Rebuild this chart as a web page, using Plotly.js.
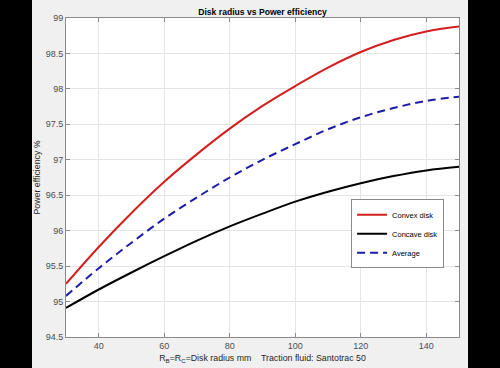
<!DOCTYPE html>
<html>
<head>
<meta charset="utf-8">
<script src="https://cdn.plot.ly/plotly-3.0.1.min.js"></script>
<style>
html,body{margin:0;padding:0;background:#000;width:500px;height:368px;overflow:hidden;}
#frame{position:absolute;left:32px;top:0;width:436px;height:368px;background:#f0f0f0;}
#plot{width:436px;height:368px;}
</style>
</head>
<body>
<div id="frame"><div id="plot"></div></div>
<script>
const radius = [30, 40, 50, 60, 70, 80, 90, 100, 110, 120, 130, 140, 150];
const convex = [95.25, 95.77, 96.25, 96.69, 97.08, 97.44, 97.76, 98.04, 98.30, 98.52, 98.69, 98.81, 98.88];
const concave = [94.91, 95.17, 95.41, 95.64, 95.86, 96.06, 96.24, 96.41, 96.55, 96.67, 96.77, 96.85, 96.90];
const average = [95.08, 95.47, 95.83, 96.17, 96.47, 96.75, 97.00, 97.22, 97.43, 97.60, 97.73, 97.83, 97.89];
const xTicks = [40, 60, 80, 100, 120, 140];
const yTicks = [94.5, 95, 95.5, 96, 96.5, 97, 97.5, 98, 98.5, 99];

const font = 'Liberation Sans, Arial, sans-serif';
const traces = [
  {x: radius, y: convex, name: 'Convex disk', mode: 'lines', line: {color: '#d41e1e', width: 2, shape: 'spline'}},
  {x: radius, y: concave, name: 'Concave disk', mode: 'lines', line: {color: '#000000', width: 2, shape: 'spline'}},
  {x: radius, y: average, name: 'Average', mode: 'lines', line: {color: '#1c1ca8', width: 2, dash: '8px,5px', shape: 'spline'}}
];
const axisCommon = {
  showline: true, linecolor: '#8a8a8a', linewidth: 1, mirror: 'ticks',
  ticks: 'inside', ticklen: 4, tickcolor: '#8a8a8a', tickwidth: 1,
  showgrid: true, gridcolor: '#e4e4e4', gridwidth: 1, zeroline: false,
  tickfont: {family: font, size: 9, color: '#4d4d4d'}
};
const layout = {
  width: 436, height: 368,
  margin: {l: 34, r: 9, t: 18, b: 31},
  paper_bgcolor: 'rgba(0,0,0,0)', plot_bgcolor: '#ffffff',
  title: {text: '<b>Disk radius vs Power efficiency</b>', font: {family: font, size: 8.6, color: '#000'}, x: 0.5, xref: 'paper', xanchor: 'center', y: 1, yref: 'paper', yanchor: 'bottom', pad: {b: 3}},
  xaxis: Object.assign({}, axisCommon, {range: [30, 150], tickvals: xTicks, ticktext: xTicks.map(String),
    title: {text: 'R<sub>B</sub>=R<sub>C</sub>=Disk radius mm    Traction fluid: Santotrac 50', font: {family: font, size: 8.8, color: '#262626'}, standoff: 5}}),
  yaxis: Object.assign({}, axisCommon, {range: [94.5, 99], tickvals: yTicks, ticktext: yTicks.map(String),
    title: {text: 'Power efficiency %', font: {family: font, size: 8.8, color: '#262626'}, standoff: 4}}),
  showlegend: true,
  legend: {x: 0.962, xanchor: 'right', y: 0.432, yanchor: 'top', bgcolor: '#ffffff', bordercolor: '#8a8a8a', borderwidth: 1,
    font: {family: font, size: 7.5, color: '#000'}, itemwidth: 30, tracegroupgap: 0}
};
Plotly.newPlot('plot', traces, layout, {displayModeBar: false, staticPlot: true});
</script>
</body>
</html>
